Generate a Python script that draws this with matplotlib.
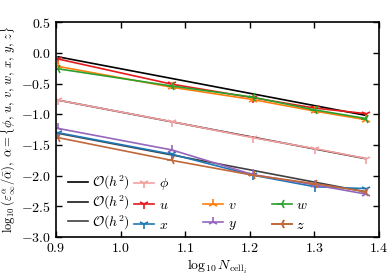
import matplotlib
matplotlib.use("Agg")
import matplotlib.pyplot as plt
import numpy as np

plt.rcParams['font.family'] = 'serif'
plt.rcParams['font.serif'] = ['cmr10']
plt.rcParams['mathtext.fontset'] = 'cm'
plt.rcParams['axes.formatter.use_mathtext'] = True
plt.rcParams['font.size'] = 10

# log10 of cell counts
x = np.log10([8, 12, 16, 20, 24])

phi = [-0.77, -1.12, -1.38, -1.56, -1.72]
u = [-0.10, -0.51, -0.73, -0.90, -0.99]
v = [-0.22, -0.56, -0.76, -0.95, -1.09]
w = [-0.26, -0.54, -0.72, -0.93, -1.07]
xs = [-1.30, -1.65, -1.99, -2.18, -2.21]
ys = [-1.23, -1.58, -1.98, -2.15, -2.30]
zs = [-1.38, -1.75, -1.99, -2.13, -2.26]

# second order reference lines: starting values
ref_start = [-0.065, -0.77, -1.31]
ref_colors = ['k', '0.1', '0.25']

fig, ax = plt.subplots(figsize=(3.92, 2.80), dpi=100)
fig.subplots_adjust(left=0.143, right=0.967, top=0.921, bottom=0.153)

ref_handles = []
for y0, c in zip(ref_start, ref_colors):
    yr = y0 - 2 * (x - x[0])
    h, = ax.plot([x[0], x[-1]], [yr[0], yr[-1]], color=c, lw=1.2)
    ref_handles.append(h)

series = [
    (phi, r'$\phi$', '#f4a0a0', '1'),
    (u, r'$u$', '#e41a1c', '1'),
    (xs, r'$x$', '#1f77b4', '1'),
    (v, r'$v$', '#ff7f0e', '2'),
    (ys, r'$y$', '#9467bd', '2'),
    (w, r'$w$', '#2ca02c', '3'),
    (zs, r'$z$', '#c0683a', '3'),
]
hs = []
for vals, lab, c, m in series:
    h, = ax.plot(x, vals, color=c, marker=m, ms=7, mew=1.2, lw=1.2, label=lab)
    hs.append(h)

# legend grid: one small legend per entry so rows line up across columns
col_x = [0.036, 0.242, 0.456, 0.668]
row_y = [0.208, 0.118, 0.026]
entries = [
    (ref_handles[0], r'$\mathcal{O}(h^2)$', 0, 0),
    (ref_handles[1], r'$\mathcal{O}(h^2)$', 0, 1),
    (ref_handles[2], r'$\mathcal{O}(h^2)$', 0, 2),
    (hs[0], r'$\phi$', 1, 0),
    (hs[1], r'$u$', 1, 1),
    (hs[2], r'$x$', 1, 2),
    (hs[3], r'$v$', 2, 1),
    (hs[4], r'$y$', 2, 2),
    (hs[5], r'$w$', 3, 1),
    (hs[6], r'$z$', 3, 2),
]
for h, lab, ci, ri in entries:
    leg = ax.legend([h], [lab], loc='lower left', frameon=False,
                    bbox_to_anchor=(col_x[ci], row_y[ri]), borderaxespad=0,
                    borderpad=0, handlelength=1.45, handletextpad=0.3,
                    fontsize=10)
    ax.add_artist(leg)

ax.set_xlim(0.9, 1.4)
ax.set_ylim(-3.0, 0.5)
ax.set_xticks([0.9, 1.0, 1.1, 1.2, 1.3, 1.4])
ax.set_yticks(np.arange(-3.0, 0.51, 0.5))
ax.tick_params(direction='in', top=True, right=True, length=4, width=1)
for s in ax.spines.values():
    s.set_linewidth(1.2)

ax.set_xlabel(r'$\log_{10} N_{\mathrm{cell}_i}$', labelpad=2)
ax.set_ylabel(r'$\log_{10}(\varepsilon_\infty^\alpha/\bar{\alpha}),\ \alpha=\{\phi,\,u,\,v,\,w,\,x,\,y,\,z\}$',
              fontsize=9, labelpad=2)

fig.savefig('out.png', dpi=100)
